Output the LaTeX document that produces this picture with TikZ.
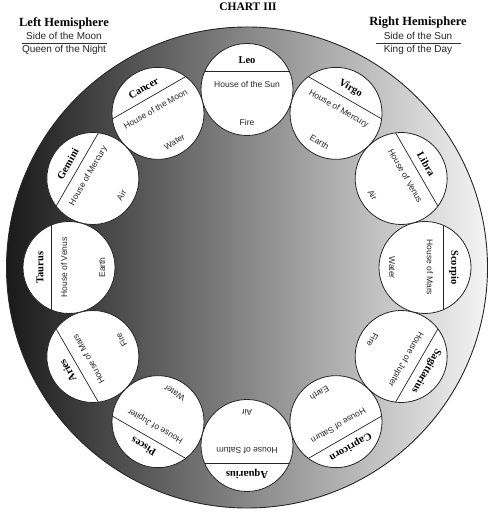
\documentclass[tikz,border=0pt]{standalone}
\usepackage{fontspec}
\setmainfont{Liberation Serif}
\newfontfamily\hsans{Liberation Sans}
\newfontfamily\sgnfont{Liberation Serif}
\usetikzlibrary{calc}
\tikzset{
  wheel/.style={circle, draw=black!85, line width=0.9pt, minimum size=481pt, inner sep=0pt, left color=black!90, right color=black!4},
  signc/.style={circle, draw=black!85, line width=0.8pt, fill=white, minimum size=92pt, inner sep=0pt},
  signname/.style={font=\sgnfont\bfseries\fontsize{10.5}{12}\selectfont, inner sep=0pt},
  house/.style={font=\hsans\fontsize{8.5}{10}\selectfont, text=black!85, inner sep=0pt},
  hemi/.style={font=\sgnfont\bfseries\fontsize{12.5}{14}\selectfont, inner sep=0pt},
  hsub/.style={font=\hsans\fontsize{10}{12}\selectfont, text=black!85, inner sep=0pt},
  chord/.style={line width=0.7pt, draw=black!85},
}
\begin{document}
\begin{tikzpicture}[x=1pt,y=1pt]
\useasboundingbox (0,0) rectangle (500,532);
\coordinate (C) at (247,264.5);
\node[wheel] (big) at (C) {};
\node[font=\bfseries\fontsize{11.5}{13}\selectfont, inner sep=0pt] (title) at (248,525) {CHART III};
% headers
\node[hemi] (lh) at (64,509) {Left Hemisphere};
\node[hsub] (lh1) at (64,496) {Side of the Moon};
\node[hsub] (lh2) at (64,482) {Queen of the Night};
\coordinate (lla) at (22,489);
\coordinate (llb) at (107,489);
\draw[line width=0.6pt, black!80] (lla) -- (llb);
\node[hemi] (rh) at (418,509) {Right Hemisphere};
\node[hsub] (rh1) at (418,496) {Side of the Sun};
\node[hsub] (rh2) at (418,482) {King of the Day};
\coordinate (rla) at (376,489);
\coordinate (rlb) at (461,489);
\draw[line width=0.6pt, black!80] (rla) -- (rlb);
% signs
\foreach \a/\s/\h/\e in {
  90/Leo/House of the Sun/Fire,
  120/Cancer/House of the Moon/Water,
  150/Gemini/House of Mercury/Air,
  180/Taurus/House of Venus/Earth,
  210/Aries/House of Mars/Fire,
  240/Pisces/House of Jupiter/Water,
  270/Aquarius/House of Saturn/Air,
  300/Capricorn/House of Saturn/Earth,
  330/Sagittarius/House of Jupiter/Fire,
  360/Scorpio/House of Mars/Water,
  30/Libra/House of Venus/Air,
  60/Virgo/House of Mercury/Earth}{
  \node[signc] (s\a) at ($(C)+(\a:178)$) {};
  \coordinate (ca\a) at ($(s\a)+(\a:18)+(\a+90:42.3)$);
  \coordinate (cb\a) at ($(s\a)+(\a:18)+(\a-90:42.3)$);
  \draw[chord] (ca\a) -- (cb\a);
  \node[signname, rotate=\a-90] (n\a) at ($(s\a)+(\a:29)$) {\s};
  \node[house, rotate=\a-90] (h\a) at ($(s\a)+(\a:5)$) {\h};
  \node[house, rotate=\a-90] (e\a) at ($(s\a)+(\a+180:33)$) {\e};
}
\end{tikzpicture}
\end{document}
